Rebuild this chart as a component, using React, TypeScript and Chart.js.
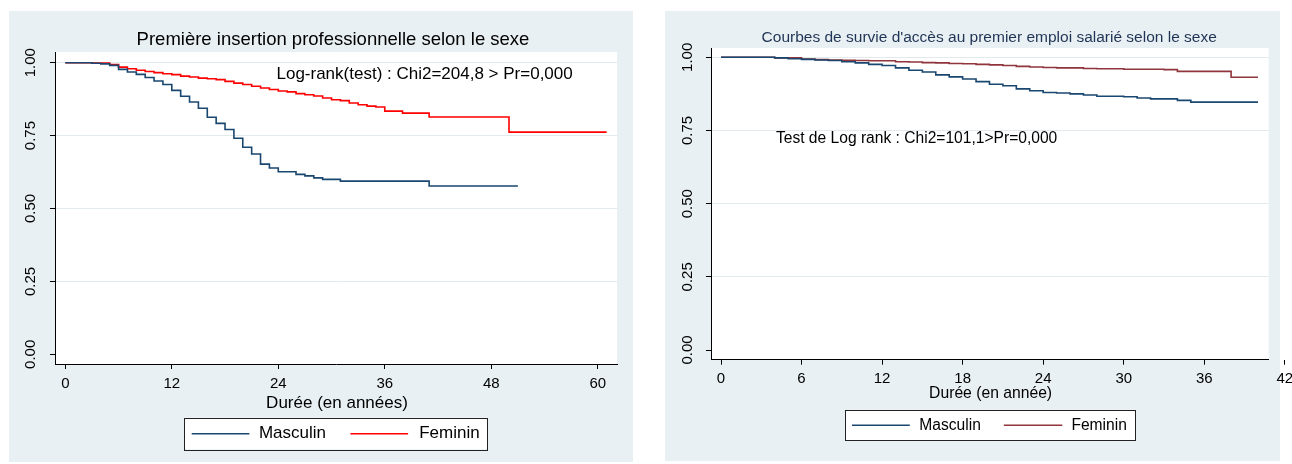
import React, { useEffect, useRef } from "react";
import { Chart, registerables } from "chart.js";

Chart.register(...registerables);

// ---------- Data: chart A (left) ----------
const titleA = "Première insertion professionnelle selon le sexe";
const noteA = "Log-rank(test) : Chi2=204,8 > Pr=0,000";
const xTitleA = "Durée (en années)";
const xTicksA = [0, 12, 24, 36, 48, 60];

const mascTimesA = [0, 3, 4, 5, 6, 7, 8, 9, 10, 11, 12, 13, 14, 15, 16, 17, 18, 19, 20, 21, 22, 23, 24, 26, 27, 28, 29, 31, 41, 51];
const mascSurvA = [1.0, 0.998, 0.996, 0.991, 0.977, 0.968, 0.96, 0.949, 0.937, 0.925, 0.905, 0.885, 0.865, 0.844, 0.813, 0.792, 0.771, 0.741, 0.71, 0.687, 0.652, 0.639, 0.626, 0.617, 0.612, 0.605, 0.6, 0.594, 0.577, 0.577];

const femTimesA = [0, 3, 5, 6, 7, 8, 9, 10, 11, 12, 13, 14, 15, 16, 17, 18, 19, 20, 21, 22, 23, 24, 25, 26, 27, 28, 29, 30, 31, 32, 33, 34, 35, 36, 38, 41, 50, 61];
const femSurvA = [1.0, 0.999, 0.994, 0.985, 0.979, 0.974, 0.97, 0.966, 0.962, 0.959, 0.954, 0.951, 0.947, 0.945, 0.942, 0.936, 0.93, 0.925, 0.919, 0.913, 0.908, 0.903, 0.9, 0.894, 0.89, 0.886, 0.879, 0.873, 0.87, 0.862, 0.856, 0.851, 0.848, 0.834, 0.827, 0.814, 0.762, 0.762];

// ---------- Data: chart B (right) ----------
const titleB = "Courbes de survie d'accès au premier emploi salarié selon le sexe";
const noteB = "Test de Log rank : Chi2=101,1>Pr=0,000";
const xTitleB = "Durée (en année)";
const xTicksB = [0, 6, 12, 18, 24, 30, 36, 42];

const mascTimesB = [0, 4, 5, 6, 7, 8, 9, 10, 11, 12, 13, 14, 15, 16, 17, 18, 19, 20, 21, 22, 23, 24, 25, 26, 27, 28, 30, 31, 32, 34, 35, 40];
const mascSurvB = [1.0, 0.998, 0.995, 0.993, 0.991, 0.989, 0.985, 0.981, 0.976, 0.972, 0.964, 0.956, 0.95, 0.94, 0.933, 0.926, 0.917, 0.908, 0.903, 0.892, 0.886, 0.88, 0.878, 0.875, 0.871, 0.867, 0.865, 0.861, 0.858, 0.853, 0.847, 0.847];

const femTimesB = [0, 4, 6, 7, 8, 9, 10, 11, 13, 14, 15, 16, 17, 18, 19, 20, 21, 22, 23, 24, 25, 27, 28, 30, 33, 34, 38, 40];
const femSurvB = [1.0, 0.998, 0.994, 0.992, 0.991, 0.99, 0.989, 0.988, 0.985, 0.984, 0.982, 0.981, 0.979, 0.978, 0.976, 0.974, 0.972, 0.969, 0.967, 0.965, 0.964, 0.962, 0.961, 0.959, 0.958, 0.952, 0.932, 0.932];

// ---------- Shared ----------
const seriesLabels = ["Masculin", "Feminin"];
const yTicks = [0, 0.25, 0.5, 0.75, 1];

const FONT = "'Liberation Sans', Arial, Helvetica, sans-serif";
const BG = "#e9f0f3";
const GRID = "#e2eaee";

type Spec = any;

const specA: Spec = {
  left: 9, top: 11, w: 624, h: 451, bgW: 624,
  padTop: 41, padRight: 16, yWidth: 46, xHeight: 98,
  xMin: -1.161, xMax: 62.17, yMin: -0.0333, yMax: 1.0367,
  yPad: 4.4, xPad: 6.3, tickSize: 15,
  xTicks: xTicksA,
  colors: ["#1a476f", "#ff0000"],
  series: [[mascTimesA, mascSurvA], [femTimesA, femSurvA]],
  title: { text: titleA, x: 324, y: 29, size: 18.5, color: "#000" },
  note: { text: noteA, x: 415.6, y: 63, size: 17 },
  xTitle: { text: xTitleA, x: 328, y: 392.5, size: 17 },
  legend: { box: [175.3, 406.7, 303.4, 31.6], y: 422.7, size: 17, items: [{ x0: 182.7, x1: 240.4, tx: 249.9 }, { x0: 341.4, x1: 399.1, tx: 410.2 }] },
};

const specB: Spec = {
  left: 665, top: 11, w: 627, h: 450, bgW: 615,
  padTop: 37, padRight: 23.3, yWidth: 46, xHeight: 101.3,
  xMin: -0.745, xMax: 40.8, yMin: -0.0331, yMax: 1.0318,
  yPad: 3.4, xPad: 4.9, tickSize: 15,
  xTicks: xTicksB,
  colors: ["#1a476f", "#90353b"],
  series: [[mascTimesB, mascSurvB], [femTimesB, femSurvB]],
  title: { text: titleB, x: 324.2, y: 26.3, size: 15.5, color: "#1f3354" },
  note: { text: noteB, x: 251.6, y: 127.3, size: 15.6 },
  xTitle: { text: xTitleB, x: 325.6, y: 383, size: 15.7 },
  legend: { box: [180, 399, 290, 30], y: 414.3, size: 15.6, items: [{ x0: 187, x1: 244.8, tx: 254.3 }, { x0: 338.8, x1: 397.3, tx: 406.4 }] },
};

function panelPlugin(p: Spec) {
  return {
    id: "panel",
    beforeDraw(chart: any) {
      const { ctx, chartArea: a } = chart;
      ctx.save();
      ctx.fillStyle = "#ffffff";
      ctx.fillRect(0, 0, chart.width, chart.height);
      ctx.fillStyle = BG;
      ctx.fillRect(0, 0, p.bgW, chart.height);
      ctx.fillStyle = "#ffffff";
      ctx.fillRect(a.left, a.top, a.right - a.left, a.bottom - a.top);
      ctx.restore();
    },
    afterDraw(chart: any) {
      const ctx = chart.ctx;
      ctx.save();
      ctx.textAlign = "center";
      ctx.textBaseline = "middle";
      ctx.font = `${p.title.size}px ${FONT}`;
      ctx.fillStyle = p.title.color;
      ctx.fillText(p.title.text, p.title.x, p.title.y);
      ctx.fillStyle = "#000";
      ctx.font = `${p.note.size}px ${FONT}`;
      ctx.fillText(p.note.text, p.note.x, p.note.y);
      ctx.font = `${p.xTitle.size}px ${FONT}`;
      ctx.fillText(p.xTitle.text, p.xTitle.x, p.xTitle.y);
      // legend box
      const [bx, by, bw, bh] = p.legend.box;
      ctx.fillStyle = "#fff";
      ctx.fillRect(bx, by, bw, bh);
      ctx.strokeStyle = "#222";
      ctx.lineWidth = 1;
      ctx.strokeRect(Math.round(bx) + 0.5, Math.round(by) + 0.5, Math.round(bw), Math.round(bh));
      ctx.font = `${p.legend.size}px ${FONT}`;
      ctx.textAlign = "left";
      chart.data.datasets.forEach((ds: any, i: number) => {
        const it = p.legend.items[i];
        ctx.strokeStyle = ds.borderColor;
        ctx.lineWidth = ds.borderWidth;
        ctx.beginPath();
        ctx.moveTo(it.x0, p.legend.y);
        ctx.lineTo(it.x1, p.legend.y);
        ctx.stroke();
        ctx.fillStyle = "#000";
        ctx.fillText(ds.label, it.tx, p.legend.y);
      });
      ctx.restore();
    },
  };
}

function makeConfig(p: Spec): any {
  return {
    type: "line",
    data: {
      datasets: p.series.map(([times, surv]: number[][], i: number) => ({
        label: seriesLabels[i],
        data: times.map((t, k) => ({ x: t, y: surv[k] })),
        borderColor: p.colors[i],
        backgroundColor: p.colors[i],
        borderWidth: 1.6,
        pointRadius: 0,
        stepped: true,
        fill: false,
        tension: 0,
      })),
    },
    options: {
      animation: false,
      responsive: false,
      devicePixelRatio: 1,
      events: [],
      layout: { padding: { top: p.padTop, right: p.padRight, bottom: 0, left: 0 } },
      plugins: { legend: { display: false }, title: { display: false }, tooltip: { enabled: false } },
      scales: {
        x: {
          type: "linear",
          min: p.xMin,
          max: p.xMax,
          afterBuildTicks: (s: any) => { s.ticks = p.xTicks.map((v: number) => ({ value: v })); },
          afterFit: (s: any) => { s.height = p.xHeight; s.paddingLeft = 0; s.paddingRight = 0; },
          ticks: { autoSkip: false, minRotation: 0, maxRotation: 0, padding: p.xPad, color: "#000", font: { family: FONT, size: p.tickSize }, callback: (v: any) => String(v) },
          grid: { drawOnChartArea: false, drawTicks: true, tickLength: 5, tickColor: "#000", color: "#000" },
          border: { display: true, color: "#000", width: 1 },
        },
        y: {
          type: "linear",
          min: p.yMin,
          max: p.yMax,
          afterBuildTicks: (s: any) => { s.ticks = yTicks.map((v) => ({ value: v })); },
          afterFit: (s: any) => { s.width = p.yWidth; s.paddingTop = 0; s.paddingBottom = 0; },
          ticks: { autoSkip: false, minRotation: 90, maxRotation: 90, crossAlign: "center", padding: p.yPad, color: "#000", font: { family: FONT, size: p.tickSize }, callback: (v: any) => Number(v).toFixed(2) },
          grid: { color: (c: any) => (c.tick && c.tick.value === 0 ? "rgba(0,0,0,0)" : GRID), tickColor: "#000", tickLength: 5, lineWidth: 1 },
          border: { display: true, color: "#000", width: 1 },
        },
      },
    },
    plugins: [panelPlugin(p)],
  };
}

function KMChart({ spec }: { spec: Spec }) {
  const ref = useRef<HTMLCanvasElement>(null);
  useEffect(() => {
    const chart = new Chart(ref.current as HTMLCanvasElement, makeConfig(spec));
    return () => chart.destroy();
  }, [spec]);
  return (
    <canvas
      ref={ref}
      width={spec.w}
      height={spec.h}
      style={{ position: "absolute", left: spec.left, top: spec.top, width: spec.w, height: spec.h }}
    />
  );
}

export default function App() {
  return (
    <div style={{ position: "absolute", left: 0, top: 0, width: 1292, height: 464, background: "#fff", overflow: "hidden" }}>
      <KMChart spec={specA} />
      <KMChart spec={specB} />
    </div>
  );
}
